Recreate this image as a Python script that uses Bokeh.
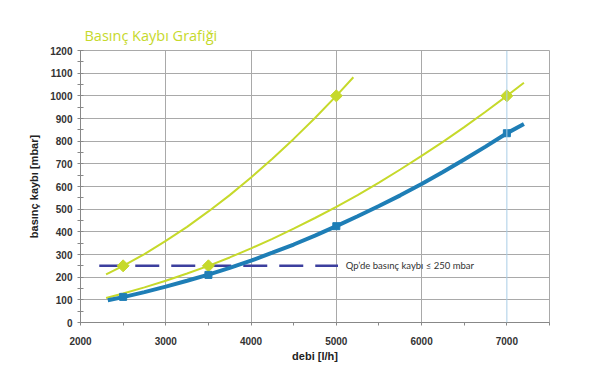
import math
from bokeh.plotting import figure
from bokeh.models import Range1d, Span, Label, FixedTicker
from bokeh.embed import file_html
from bokeh.resources import INLINE

# Data
curve_a_q = [2300, 2500, 2750, 3000, 3250, 3500, 3750, 4000, 4250, 4500, 4750, 5000, 5200]
curve_a_dp = [212, 250, 302, 360, 422, 490, 562, 640, 722, 810, 902, 1000, 1082]
curve_a_mark_q = [2500, 5000]
curve_a_mark_dp = [250, 1000]

curve_b_q = [2300, 2500, 2750, 3000, 3250, 3500, 3750, 4000, 4250, 4500, 4750, 5000,
             5250, 5500, 5750, 6000, 6250, 6500, 6750, 7000, 7200]
curve_b_dp = [108, 128, 155, 184, 216, 250, 287, 327, 369, 414, 461, 510,
              562, 617, 675, 735, 797, 862, 930, 1000, 1058]
curve_b_mark_q = [3500, 7000]
curve_b_mark_dp = [250, 1000]

curve_c_q = [2320, 2500, 2750, 3000, 3250, 3500, 3750, 4000, 4250, 4500, 4750, 5000,
             5250, 5500, 5750, 6000, 6250, 6500, 6750, 7000, 7200]
curve_c_dp = [98, 112, 134, 158, 184, 211, 241, 273, 308, 344, 383, 425,
              469, 514, 561, 611, 664, 719, 776, 835, 876]
curve_c_mark_q = [2500, 3500, 5000, 7000]
curve_c_mark_dp = [113, 210, 425, 835]

limit_q = [2220, 5020]
limit_dp = [250, 250]
limit_text = "Qp\u2019de basınç kaybı ≤ 250 mbar"
limit_text_q = 5110

x_ticks = [2000, 3000, 4000, 5000, 6000, 7000]
x_grid = [3000, 4000, 5000, 6000]
x_minor = [2500, 3500, 4500, 5500, 6500, 7500]
y_ticks = list(range(0, 1300, 100))
y_minor = list(range(50, 1200, 100))
highlight_q = 7000

title_text = "Basınç Kaybı Grafiği"
x_label = "debi [l/h]"
y_label = "basınç kaybı [mbar]"

YELLOW = "#c6d92b"
BLUE = "#1e7eb6"
DASH = "#3c3f9e"
GRID = "#a9a9a9"

p = figure(width=600, height=365, x_range=Range1d(2000, 7500), y_range=Range1d(0, 1200),
           output_backend="svg", toolbar_location=None,
           min_border_left=80, min_border_right=51, min_border_top=50, min_border_bottom=43)

p.title.text = title_text
p.title.text_font = "Open Sans"
p.title.text_font_size = "14.5px"
p.title.text_font_style = "normal"
p.title.text_color = YELLOW
p.title.align = "left"
p.title.offset = 4
p.title.standoff = 12

p.outline_line_color = GRID
p.background_fill_color = "white"
p.border_fill_color = "white"

for ax in (p.xaxis[0], p.yaxis[0]):
    ax.axis_line_color = "#888888"
    ax.major_tick_line_color = "#888888"
    ax.minor_tick_line_color = "#888888"
    ax.major_label_text_font = "Liberation Sans"
    ax.major_label_text_font_style = "bold"
    ax.major_label_text_font_size = "10px"
    ax.major_label_text_color = "#333333"
    ax.axis_label_text_font = "Liberation Sans"
    ax.axis_label_text_font_style = "bold"
    ax.axis_label_text_font_size = "11px"
    ax.axis_label_text_color = "#222222"
    ax.major_tick_in = 3
    ax.major_tick_out = 3
    ax.minor_tick_in = 3
    ax.minor_tick_out = 3

p.xaxis.major_tick_in = 0
p.xaxis.minor_tick_in = 0
p.xaxis.ticker = FixedTicker(ticks=x_ticks, minor_ticks=x_minor)
p.yaxis.ticker = FixedTicker(ticks=y_ticks, minor_ticks=y_minor)
p.xaxis.axis_label = x_label
p.yaxis.axis_label = y_label
p.xaxis.major_label_standoff = 11
p.yaxis.major_label_standoff = 5
p.xaxis.axis_label_standoff = 2
p.yaxis.axis_label_standoff = 7

p.xgrid.ticker = FixedTicker(ticks=x_grid)
p.ygrid.ticker = FixedTicker(ticks=y_ticks)
p.xgrid.grid_line_color = GRID
p.ygrid.grid_line_color = GRID
p.xgrid.grid_line_width = 1
p.ygrid.grid_line_width = 1

p.add_layout(Span(location=highlight_q, dimension="height", line_color="#a9cde6", line_width=1))

p.line(limit_q, limit_dp, line_color=DASH, line_width=2.5, line_dash="24 12")

p.line(curve_a_q, curve_a_dp, line_color=YELLOW, line_width=2)
p.line(curve_b_q, curve_b_dp, line_color=YELLOW, line_width=2)
p.line(curve_c_q, curve_c_dp, line_color=BLUE, line_width=4)

p.scatter(curve_a_mark_q, curve_a_mark_dp, marker="square", size=8.5, angle=math.pi / 4,
          fill_color=YELLOW, line_color=YELLOW)
p.scatter(curve_b_mark_q, curve_b_mark_dp, marker="square", size=8.5, angle=math.pi / 4,
          fill_color=YELLOW, line_color=YELLOW)
p.scatter(curve_c_mark_q, curve_c_mark_dp, marker="square", size=7, fill_color=BLUE, line_color=BLUE)

p.add_layout(Label(x=limit_text_q, y=250, text=limit_text, text_font="Lato", text_font_size="9.5px",
                   text_color="#333333", text_baseline="middle"))

open("out.html", "w").write(file_html(p, INLINE))
